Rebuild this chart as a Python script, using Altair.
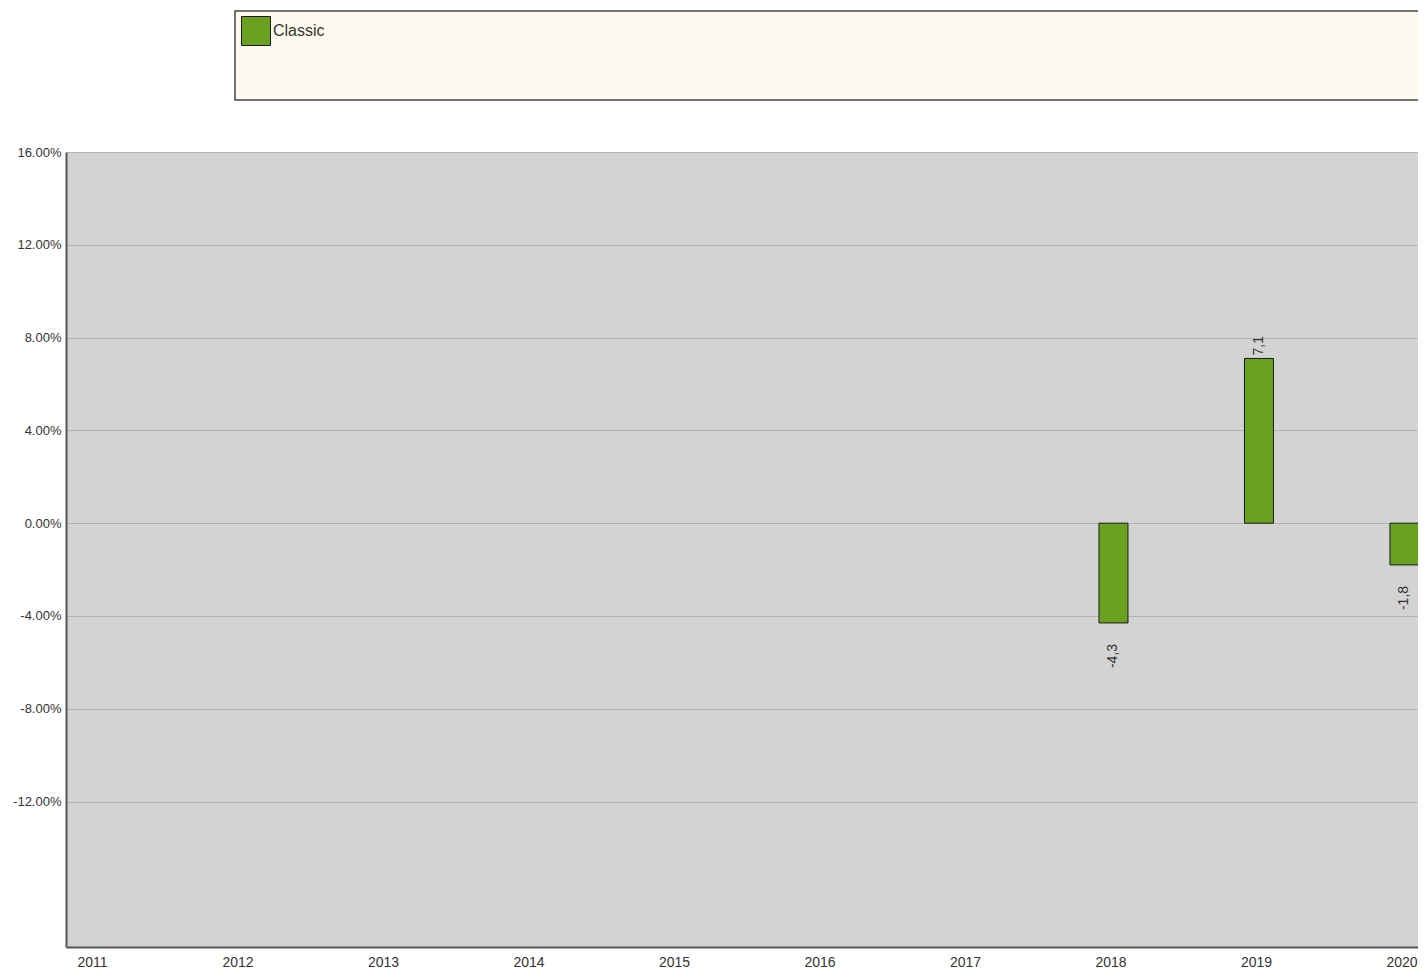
import altair as alt
import pandas as pd

# ---- data ----
axis_years = [2011, 2012, 2013, 2014, 2015, 2016, 2017, 2018, 2019, 2020]
bar_years = [2018, 2019, 2020]
returns = [-4.3, 7.1, -1.8]
series = ["Classic", "Classic", "Classic"]
y_ticks = [-12, -8, -4, 0, 4, 8, 12, 16]

df = pd.DataFrame({"year": bar_years, "value": returns, "series": series})

GREEN = "#6aa121"
FONT = "Liberation Sans"

x_scale = alt.Scale(domain=[2010.8007, 2020.093], nice=False, zero=False, padding=0)
y_scale = alt.Scale(domain=[-18.27, 16], nice=False, zero=False)

x_enc = alt.X(
    "year:Q",
    scale=x_scale,
    axis=alt.Axis(
        values=axis_years, format="d", title=None, grid=False, ticks=False,
        domainColor="#555555", domainWidth=2, labelFontSize=14,
        labelColor="#333333", labelPadding=8, labelFlush=False,
        labelFont=FONT, labelOffset=-3,
    ),
)
y_enc = alt.Y(
    "value:Q",
    scale=y_scale,
    axis=alt.Axis(
        values=y_ticks, title=None,
        labelExpr="(datum.value < 0 ? '-' : '') + format(abs(datum.value), '.2f') + '%'",
        ticks=False, grid=True, gridColor="#b3b3b3", gridWidth=1,
        domainColor="#555555", domainWidth=2, labelFontSize=13,
        labelColor="#333333", labelPadding=5, labelFont=FONT,
    ),
)

box = alt.Chart(pd.DataFrame({"k": [0]})).mark_rect(
    fill="#fffaf0", stroke="#444444", strokeWidth=1.5
).encode(
    x=alt.value(169), x2=alt.value(1400), y=alt.value(-141), y2=alt.value(-52)
)

bars = alt.Chart(df).mark_bar(size=29, stroke="#1a1a1a", strokeWidth=1).encode(
    x=x_enc,
    y=y_enc,
    color=alt.Color(
        "series:N",
        scale=alt.Scale(range=[GREEN]),
        legend=alt.Legend(
            title=None, orient="none", legendX=175, legendY=-136,
            symbolType="square", symbolSize=841, symbolStrokeColor="#1a1a1a",
            symbolStrokeWidth=1, labelFontSize=16, labelColor="#333333",
            labelOffset=2, padding=0, labelFont=FONT, symbolOpacity=1,
        ),
    ),
)

label_expr = "(datum.value < 0 ? '-' : '') + replace(format(abs(datum.value), '.1f'), '.', ',')"

pos = alt.Chart(df).transform_filter("datum.value >= 0").transform_calculate(
    lbl=label_expr
).mark_text(
    angle=270, align="left", baseline="middle", dx=3, fontSize=14,
    color="#333333", font=FONT,
).encode(x=x_enc, y=y_enc, text="lbl:N")

neg = alt.Chart(df).transform_filter("datum.value < 0").transform_calculate(
    lbl=label_expr
).mark_text(
    angle=270, align="right", baseline="middle", dx=-21, fontSize=14,
    color="#333333", font=FONT,
).encode(x=x_enc, y=y_enc, text="lbl:N")

chart = alt.layer(box, bars, pos, neg).properties(
    width=1352,
    height=795,
    autosize=alt.AutoSizeParams(type="none"),
    padding={"left": 58, "top": 144, "right": 0, "bottom": 22},
).configure(
    font=FONT, background="white"
).configure_view(
    fill="#d3d3d3", stroke=None, strokeWidth=0
)

chart.save("out.html", embed_options={"renderer": "svg", "actions": False})
